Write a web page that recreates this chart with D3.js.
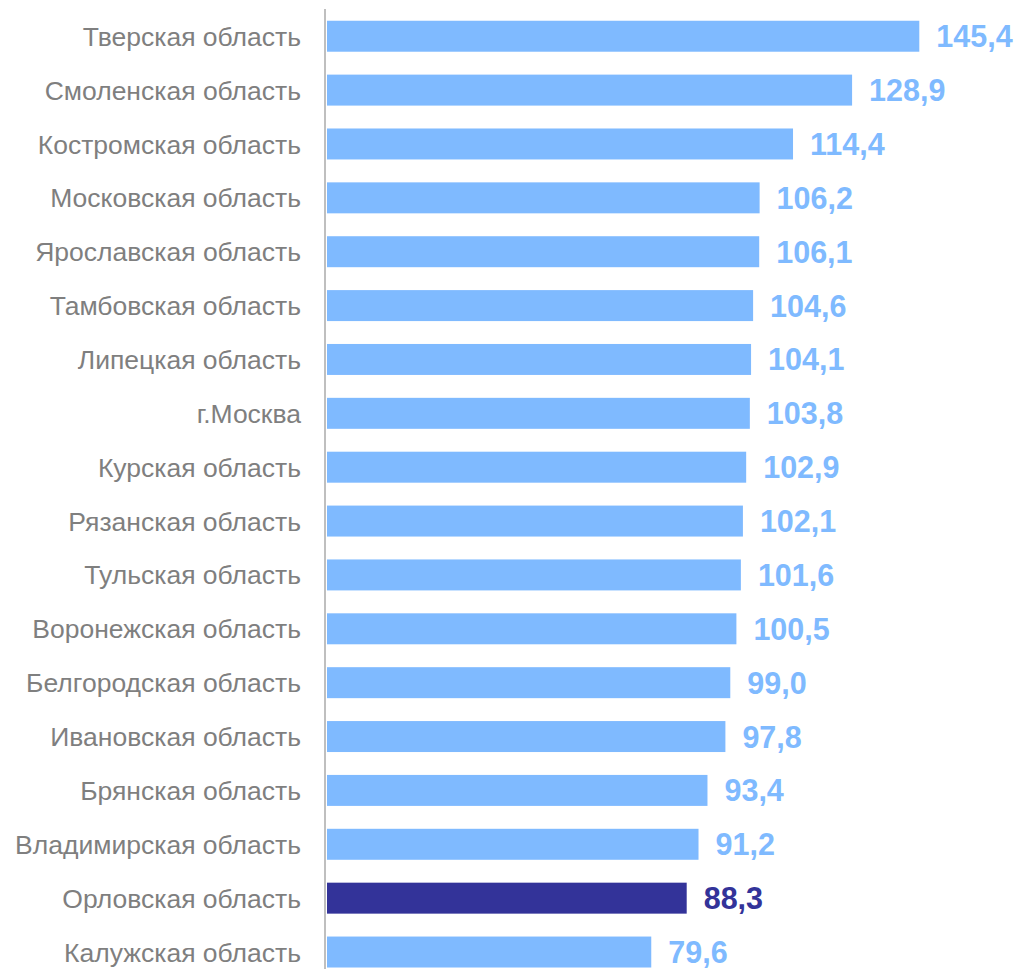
<!DOCTYPE html>
<html><head><meta charset="utf-8">
<script src="https://cdn.jsdelivr.net/npm/d3@7"></script>
<style>body{margin:0;background:#fff}svg{display:block}</style>
</head><body>
<script>
const categories = ["Тверская область","Смоленская область","Костромская область","Московская область","Ярославская область","Тамбовская область","Липецкая область","г.Москва","Курская область","Рязанская область","Тульская область","Воронежская область","Белгородская область","Ивановская область","Брянская область","Владимирская область","Орловская область","Калужская область"];
const values = [145.4,128.9,114.4,106.2,106.1,104.6,104.1,103.8,102.9,102.1,101.6,100.5,99.0,97.8,93.4,91.2,88.3,79.6];
const highlight = ["Орловская область"];

const W = 1020, H = 969;
const svg = d3.select("body").append("svg").attr("width", W).attr("height", H);
const x = d3.scaleLinear().domain([0, 150]).range([327, 327 + 150 * 4.0736]);
const y = d3.scaleBand().domain(categories).range([9.3, 9.3 + 18 * 53.87]).paddingInner(0.425).paddingOuter(0.2125);
const light = "#7fbaff", dark = "#333399";
const data = categories.map((c, i) => ({c, v: values[i]}));

svg.selectAll("rect.bar").data(data).enter().append("rect")
  .attr("x", x(0)).attr("y", d => y(d.c)).attr("width", d => x(d.v) - x(0)).attr("height", y.bandwidth())
  .attr("fill", d => highlight.includes(d.c) ? dark : light);

svg.selectAll("text.val").data(data).enter().append("text")
  .attr("x", d => x(d.v) + 17).attr("y", d => y(d.c) + y.bandwidth() / 2)
  .attr("dy", "0.36em")
  .attr("font-family", "'Liberation Sans', Arial, sans-serif").attr("font-weight", "bold").attr("font-size", 30.5)
  .attr("fill", d => highlight.includes(d.c) ? dark : light)
  .text(d => d.v.toFixed(1).replace(".", ","));

const yAxis = d3.axisLeft(y).tickSize(0).tickPadding(24);
const g = svg.append("g").attr("transform", `translate(${325},0)`).call(yAxis);
g.select(".domain").remove();
g.selectAll("text").attr("font-family", "'Liberation Sans', Arial, sans-serif").attr("font-size", 26.5).attr("fill", "#7f7f7f").attr("dy", "0.36em");

svg.append("line").attr("x1", 325).attr("x2", 325).attr("y1", 9).attr("y2", H)
  .attr("stroke", "#bfbfbf").attr("stroke-width", 2);
</script>
</body></html>
